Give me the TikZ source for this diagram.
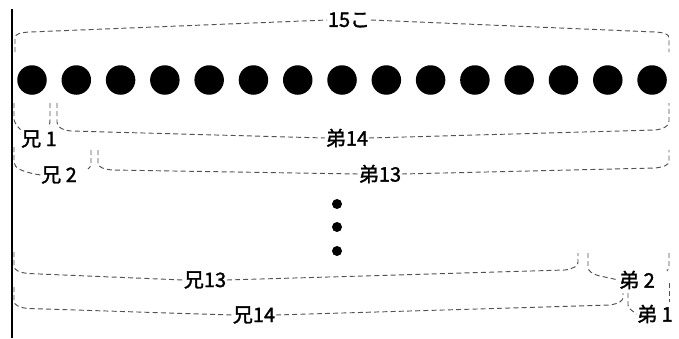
\documentclass[tikz,border=0pt]{standalone}
\usepackage{fontspec}
\newfontfamily\jp{Noto Sans CJK JP}[FakeBold=1.6]
\tikzset{
  br/.style={draw=black!68, dash pattern=on 5pt off 3.2pt, line width=0.95pt},
  lab/.style={font=\jp\fontsize{20}{20}\selectfont, inner sep=0.5pt},
  bigdot/.style={circle, fill=black, minimum size=29.5pt, inner sep=0pt},
  smalldot/.style={circle, fill=black, minimum size=10pt, inner sep=0pt}
}
\begin{document}
\begin{tikzpicture}[x=1pt, y=-1pt]
\useasboundingbox (0,0) rectangle (679,338);
% left rule
\draw[line width=1.4pt] (12,9) coordinate (rt) -- (12,338) coordinate (rb);
% dots
\foreach \i in {0,...,14} \node[bigdot] (d\i) at ({32+44.29*\i},80) {};
\node[smalldot] (v1) at (337,204) {};
\node[smalldot] (v2) at (337,227) {};
\node[smalldot] (v3) at (337,251) {};
% labels
\node[lab] (T)   at (349,20)  {15こ};
\node[lab] (A1)  at (39,139)  {兄 1};
\node[lab] (B14) at (347,138) {弟14};
\node[lab] (A2)  at (59,175)  {兄 2};
\node[lab] (B13) at (380,174) {弟13};
\node[lab] (A13) at (205,280) {兄13};
\node[lab] (C2)  at (637,280) {弟 2};
\node[lab] (A14) at (254,315) {兄14};
\node[lab] (C1)  at (655,314) {弟 1};
% top brace
\draw[br] (15,52) -- (15,38) .. controls (15,34) and (20,32.5) .. (30,32) -- (T.west);
\draw[br] (T.east) -- (655,32) .. controls (664,32.5) and (669,34) .. (669,38) -- (669,52);
% brace 兄1
\draw[br] (14,103) -- (14,118) .. controls (14,122) and (16,125) .. (A1.north west);
\draw[br] (50,103) -- (50,120) .. controls (50,123) .. (48,127);
% brace 弟14
\draw[br] (57,103) -- (57,122) .. controls (57,127) and (62,130) .. (71,131) -- (B14.west);
\draw[br] (B14.east) -- (655,130) .. controls (664,129) and (669,126) .. (669,121) -- (669,103);
% brace 兄2
\draw[br] (14,147) -- (14,162) .. controls (14,168) and (22,172) .. (A2.west);
\draw[br] (91,150) -- (91,164) .. controls (91,166) .. (88,169);
% brace 弟13
\draw[br] (98,150) -- (98,163) .. controls (98,167) and (103,169) .. (112,170) -- (B13.west);
\draw[br] (B13.east) -- (655,168) .. controls (664,167) and (669,165) .. (669,161) -- (669,150);
% brace 兄13
\draw[br] (14,252) -- (14,266) .. controls (14,270) and (19,272.5) .. (28,273.5) -- (A13.west);
\draw[br] (A13.east) -- (565,270) .. controls (574,268.5) and (578,266) .. (578,262) -- (578,253);
% brace 弟2
\draw[br] (588,253) -- (588,267) .. controls (588,271) and (592,274) .. (600,276) -- (C2.west);
\draw[br] (669,253) -- (669,266) .. controls (669,268) .. (667,271);
% brace 兄14
\draw[br] (14,287) -- (14,301) .. controls (14,305) and (19,307.5) .. (28,308.5) -- (A14.west);
\draw[br] (A14.east) -- (610,305) .. controls (619,303.5) and (623,301) .. (623,297) -- (623,293);
% brace 弟1
\draw[br] (628,293) -- (628,305) .. controls (628,308) and (631,310) .. (C1.west);
\draw[br] (669,283) -- (669,302);
\end{tikzpicture}
\end{document}
